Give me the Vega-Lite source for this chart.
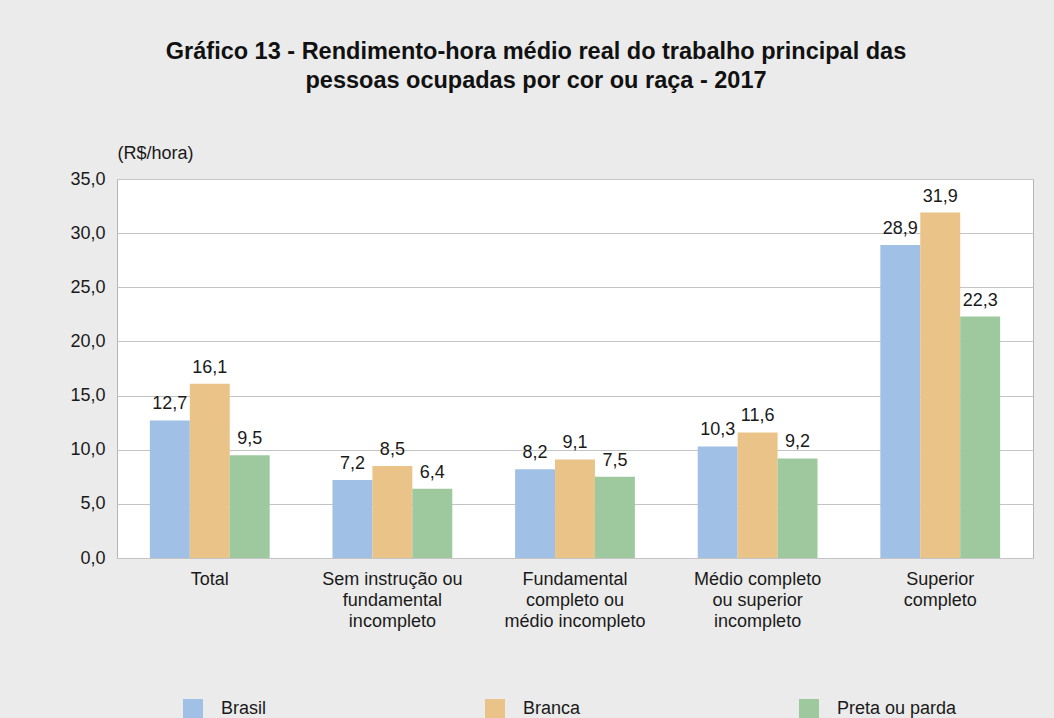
{
  "$schema": "https://vega.github.io/schema/vega-lite/v6.json",
  "autosize": "none",
  "width": 916,
  "height": 379,
  "padding": {"left": 117, "top": 179, "right": 21, "bottom": 160},
  "background": "#ebebeb",
  "config": {
    "locale": {"number": {"decimal": ",", "thousands": ".", "grouping": [3], "currency": ["R$", ""]}},
    "font": "Liberation Sans",
    "view": {"fill": "white", "stroke": "#b5b5b5", "strokeWidth": 1}
  },
  "title": {
    "text": ["Gráfico 13 - Rendimento-hora médio real do trabalho principal das", "pessoas ocupadas por cor ou raça - 2017"],
    "anchor": "middle",
    "frame": "group",
    "dx": -39,
    "fontSize": 23.5,
    "fontWeight": "bold",
    "color": "#111111",
    "lineHeight": 29,
    "offset": 52
  },
  "data": {
    "values": [
      {"nivel": "Total", "grupo": "Brasil", "valor": 12.7},
      {"nivel": "Total", "grupo": "Branca", "valor": 16.1},
      {"nivel": "Total", "grupo": "Preta ou parda", "valor": 9.5},
      {"nivel": "Sem instrução ou fundamental incompleto", "grupo": "Brasil", "valor": 7.2},
      {"nivel": "Sem instrução ou fundamental incompleto", "grupo": "Branca", "valor": 8.5},
      {"nivel": "Sem instrução ou fundamental incompleto", "grupo": "Preta ou parda", "valor": 6.4},
      {"nivel": "Fundamental completo ou médio incompleto", "grupo": "Brasil", "valor": 8.2},
      {"nivel": "Fundamental completo ou médio incompleto", "grupo": "Branca", "valor": 9.1},
      {"nivel": "Fundamental completo ou médio incompleto", "grupo": "Preta ou parda", "valor": 7.5},
      {"nivel": "Médio completo ou superior incompleto", "grupo": "Brasil", "valor": 10.3},
      {"nivel": "Médio completo ou superior incompleto", "grupo": "Branca", "valor": 11.6},
      {"nivel": "Médio completo ou superior incompleto", "grupo": "Preta ou parda", "valor": 9.2},
      {"nivel": "Superior completo", "grupo": "Brasil", "valor": 28.9},
      {"nivel": "Superior completo", "grupo": "Branca", "valor": 31.9},
      {"nivel": "Superior completo", "grupo": "Preta ou parda", "valor": 22.3}
    ]
  },
  "encoding": {
    "x": {
      "field": "nivel",
      "type": "nominal",
      "sort": null,
      "scale": {"paddingInner": 0.344, "paddingOuter": 0.18},
      "axis": {
        "title": null,
        "labelAngle": 0,
        "domain": false,
        "ticks": false,
        "labelFontSize": 18,
        "labelColor": "#1a1a1a",
        "labelPadding": 12,
        "labelLineHeight": 21,
        "labelBaseline": "top",
        "labelExpr": "datum.value == 'Sem instrução ou fundamental incompleto' ? ['Sem instrução ou', 'fundamental', 'incompleto'] : datum.value == 'Fundamental completo ou médio incompleto' ? ['Fundamental', 'completo ou', 'médio incompleto'] : datum.value == 'Médio completo ou superior incompleto' ? ['Médio completo', 'ou superior', 'incompleto'] : datum.value == 'Superior completo' ? ['Superior', 'completo'] : datum.value"
      }
    },
    "xOffset": {"field": "grupo", "type": "nominal", "sort": ["Brasil", "Branca", "Preta ou parda"], "scale": {"paddingInner": 0, "paddingOuter": 0}},
    "y": {
      "field": "valor",
      "type": "quantitative",
      "scale": {"domain": [0, 35], "nice": false},
      "axis": {
        "values": [0, 5, 10, 15, 20, 25, 30, 35],
        "format": ".1f",
        "title": "(R$/hora)",
        "titleAngle": 0,
        "titleX": 0,
        "titleY": -26,
        "titleAlign": "left",
        "titleBaseline": "middle",
        "titleFontSize": 18,
        "titleFontWeight": "normal",
        "titleColor": "#1a1a1a",
        "domain": false,
        "ticks": false,
        "labelFontSize": 18,
        "labelColor": "#1a1a1a",
        "labelPadding": 12,
        "gridColor": "#c4c4c4",
        "gridWidth": 1
      }
    }
  },
  "layer": [
    {
      "mark": {"type": "bar"},
      "encoding": {
        "color": {
          "field": "grupo",
          "type": "nominal",
          "sort": ["Brasil", "Branca", "Preta ou parda"],
          "scale": {"domain": ["Brasil", "Branca", "Preta ou parda"], "range": ["#a0c0e5", "#eac388", "#9ec89e"]},
          "legend": {
            "title": null,
            "orient": "none",
            "direction": "horizontal",
            "legendX": 66,
            "legendY": 520,
            "symbolType": "square",
            "symbolSize": 400,
            "symbolStrokeWidth": 0,
            "symbolOpacity": 1,
            "labelFontSize": 18,
            "labelColor": "#1a1a1a",
            "labelOffset": 18,
            "columnPadding": 218
          }
        }
      }
    },
    {
      "mark": {"type": "text", "baseline": "bottom", "dy": -7, "fontSize": 18, "color": "#1a1a1a"},
      "encoding": {
        "text": {"field": "valor", "type": "quantitative", "format": ".1f"}
      }
    }
  ]
}
